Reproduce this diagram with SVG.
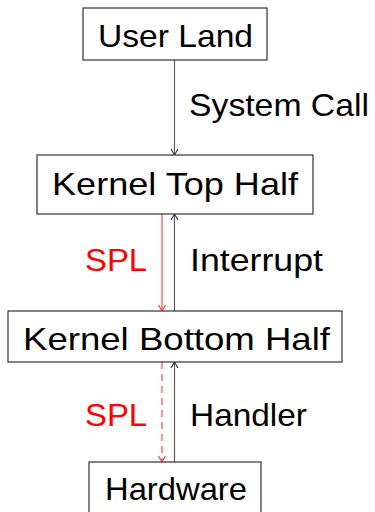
<svg xmlns="http://www.w3.org/2000/svg" width="375" height="512" viewBox="0 0 375 512">
<style>
.box{fill:#fff;stroke:#333;stroke-width:1.2}
.t{font-family:"Liberation Sans",Arial,sans-serif;font-size:32px;fill:#000}
.red{fill:#ff0000}
.c{fill:none;stroke:#555;stroke-width:1.1}
.r{fill:none;stroke:#ff3333;stroke-width:1.1}
.d{stroke-dasharray:7,5}
</style>
<defs>
<marker id="ah" viewBox="0 0 10 10" refX="9" refY="5" markerWidth="10" markerHeight="10" markerUnits="userSpaceOnUse" orient="auto">
<path d="M3,1.5 L9,5 L3,8.5" fill="none" stroke="#333" stroke-width="1.1"/>
</marker>
<marker id="ahr" viewBox="0 0 10 10" refX="9" refY="5" markerWidth="10" markerHeight="10" markerUnits="userSpaceOnUse" orient="auto">
<path d="M3,1.5 L9,5 L3,8.5" fill="none" stroke="#ff3333" stroke-width="1.1"/>
</marker>
</defs>
<g id="connectors">
<line class="c" x1="174.5" y1="60" x2="174.5" y2="155" marker-end="url(#ah)"/>
<line class="r" x1="162" y1="214" x2="162" y2="311" marker-end="url(#ahr)"/>
<line class="c" x1="174.5" y1="311" x2="174.5" y2="214" marker-end="url(#ah)"/>
<line class="r d" x1="162" y1="362" x2="162" y2="462" marker-end="url(#ahr)"/>
<line class="c" x1="174.5" y1="462" x2="174.5" y2="362" marker-end="url(#ah)"/>
<text class="t" x="189" y="116" textLength="180" lengthAdjust="spacingAndGlyphs">System Call</text>
<text class="t red" x="85" y="271" textLength="62" lengthAdjust="spacingAndGlyphs">SPL</text>
<text class="t" x="190" y="271" textLength="133" lengthAdjust="spacingAndGlyphs">Interrupt</text>
<text class="t red" x="85" y="426" textLength="62" lengthAdjust="spacingAndGlyphs">SPL</text>
<text class="t" x="190" y="426" textLength="117" lengthAdjust="spacingAndGlyphs">Handler</text>
</g>
<g id="user-land">
<rect class="box" x="83" y="8" width="184" height="52"/>
<text class="t" x="98" y="47" textLength="155" lengthAdjust="spacingAndGlyphs">User Land</text>
</g>
<g id="kernel-top-half">
<rect class="box" x="37" y="155" width="276" height="59"/>
<text class="t" x="52" y="195" textLength="246" lengthAdjust="spacingAndGlyphs">Kernel Top Half</text>
</g>
<g id="kernel-bottom-half">
<rect class="box" x="8" y="311" width="334" height="51"/>
<text class="t" x="23" y="350" textLength="307" lengthAdjust="spacingAndGlyphs">Kernel Bottom Half</text>
</g>
<g id="hardware">
<rect class="box" x="89" y="462" width="172" height="54"/>
<text class="t" x="105" y="500" textLength="142" lengthAdjust="spacingAndGlyphs">Hardware</text>
</g>
</svg>
